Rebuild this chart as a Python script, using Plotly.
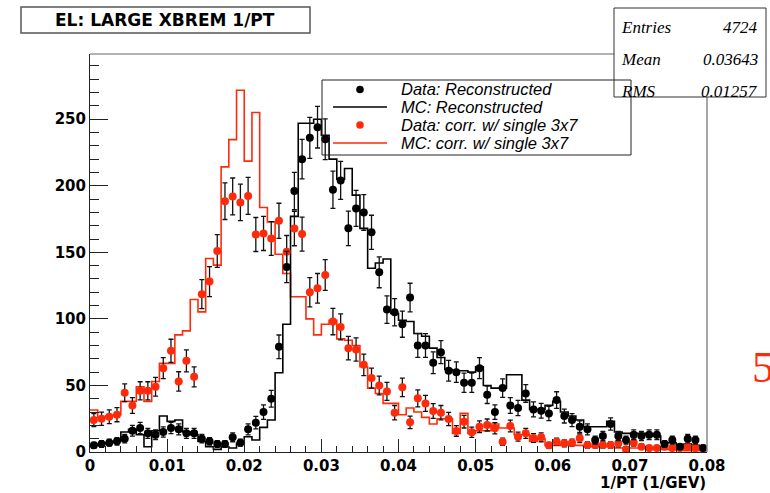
import numpy as np
import plotly.graph_objects as go

# ---------------- data ----------------
X_MIN, X_MAX, N_BINS = 0.0, 0.08, 80

data_reco = [5, 6, 7, 8, 10, 16, 18, 14, 13, 15, 18, 17, 14, 14, 10, 8, 6, 6, 11, 7,
             17, 22, 30, 40, 79, 139, 196, 220, 236, 244, 235, 197, 204, 168, 183, 180, 165, 135, 107, 105,
             96, 116, 80, 80, 67, 75, 61, 60, 52, 52, 63, 43, 30, 48, 35, 33, 44, 32, 31, 29,
             39, 27, 24, 19, 17, 9, 12, 21, 12, 9, 13, 12, 13, 13, 6, 9, 4, 10, 9, 3]

mc_reco = [5, 6, 7, 8, 15, 17, 13, 4, 16, 27, 23, 24, 15, 13, 8, 4, 2, 4, 3, 6.5,
           11.5, 9, 18.5, 24, 59.5, 96, 177, 247, 247, 250, 238, 220, 205, 213, 193, 168, 138, 142, 145, 104,
           99, 98, 89, 87, 78, 71, 62, 61, 61, 60, 64, 50, 48, 48, 58, 58, 39, 32, 32, 35,
           38, 30, 27, 24, 19, 19, 19, 23, 15, 14, 14, 14, 13, 12, 7, 7, 5, 6, 5, 3]

data_corr = [24, 25, 26.5, 28, 44.5, 35, 46, 46, 49, 63, 76, 53, 68.5, 56.5, 118.6, 128, 151, 188.4, 192, 187.5,
             192.4, 163.4, 164.2, 160.4, 173.7, 150.4, 167.9, 163.7, 120, 123, 133, 98, 94, 78, 77, 65.5, 55.5, 50, 45.5, 29.5,
             48.6, 22.3, 40.3, 36.5, 30.8, 29.5, 24.8, 15.8, 22.8, 14.8, 19, 20.3, 17.8, 7.7, 19.5, 11.5, 14, 10.5, 11, 5,
             7.7, 6.5, 7, 10.3, 5.3, 5.3, 5.3, 5.3, 6.5, 2, 7, 4, 3, 3, 4, 3, 3, 4, 3, 3]

mc_corr = [31.5, 26, 27, 28, 38, 38, 49, 38, 53, 66.6, 66.6, 88, 91, 114.6, 105.3, 145.4, 140.4, 214.2, 234.7, 271.8,
           218.5, 255, 183.7, 172.9, 148.6, 134.1, 116.6, 116.6, 100, 88, 96, 99, 85, 84, 80, 64, 48, 44, 36.5, 36.5,
           28, 33, 30, 26, 21, 25, 25, 14, 29, 14, 16, 16, 21, 18, 18, 13, 13, 8, 10, 5,
           5, 6, 5, 5, 4, 4, 4, 4, 3, 3, 3, 3, 3, 2, 2, 2, 2, 1, 1, 1]

x_tick_vals = [0, 0.01, 0.02, 0.03, 0.04, 0.05, 0.06, 0.07, 0.08]
x_tick_text = ["0", "0.01", "0.02", "0.03", "0.04", "0.05", "0.06", "0.07", "0.08"]
y_tick_vals = [0, 50, 100, 150, 200, 250]
y_tick_text = ["0", "50", "100", "150", "200", "250"]

legend_labels = ["Data: Reconstructed", "MC: Reconstructed",
                 "Data: corr. w/ single 3x7", "MC: corr. w/ single 3x7"]
stats_names = ["Entries", "Mean", "RMS"]
stats_values = ["4724", "0.03643", "0.01257"]
title_text = "EL: LARGE XBREM 1/PT"
x_title = "1/PT (1/GEV)"

# ---------------- styling ----------------
RED = "#ff2a0a"
BLACK = "#000000"
W, H = 770, 493
L, R, T, B = 90, 707, 54, 452   # plot area in pixels
Y_MAX = 299

def px(X):
    return (X - L) / (R - L)

def py(Y):
    return (B - Y) / (B - T)

edges = np.linspace(X_MIN, X_MAX, N_BINS + 1)
centers = (edges[:-1] + edges[1:]) / 2

def step_y(vals):
    return list(vals) + [vals[-1]]

fig = go.Figure()

fig.add_trace(go.Scatter(x=edges, y=step_y(mc_corr), mode="lines", line_shape="hv",
                         line=dict(color=RED, width=1.6), showlegend=False, hoverinfo="skip"))
fig.add_trace(go.Scatter(x=edges, y=step_y(mc_reco), mode="lines", line_shape="hv",
                         line=dict(color=BLACK, width=1.6), showlegend=False, hoverinfo="skip"))
fig.add_trace(go.Scatter(x=centers, y=data_corr, mode="markers",
                         marker=dict(color=RED, size=8),
                         error_y=dict(type="data", array=np.sqrt(data_corr), color="#111",
                                      thickness=1.3, width=2.5),
                         showlegend=False, hoverinfo="skip"))
fig.add_trace(go.Scatter(x=centers, y=data_reco, mode="markers",
                         marker=dict(color=BLACK, size=8),
                         error_y=dict(type="data", array=np.sqrt(data_reco), color="#111",
                                      thickness=1.3, width=2.5),
                         showlegend=False, hoverinfo="skip"))

tick_font = dict(family="DejaVu Sans", size=15, color="black", weight="bold")

fig.update_xaxes(range=[X_MIN, X_MAX], tickvals=x_tick_vals, ticktext=x_tick_text,
                 ticks="inside", ticklen=13, tickwidth=1, tickcolor="#222",
                 minor=dict(dtick=0.002, ticks="inside", ticklen=6, tickcolor="#222"),
                 showline=True, linecolor="#222", linewidth=1, showgrid=False, zeroline=False,
                 tickfont=tick_font)
fig.update_yaxes(range=[0, Y_MAX], tickvals=y_tick_vals, ticktext=y_tick_text,
                 ticks="inside", ticklen=18, tickwidth=1, tickcolor="#222",
                 minor=dict(dtick=10, ticks="inside", ticklen=9, tickcolor="#222"),
                 showline=True, linecolor="#222", linewidth=1, showgrid=False, zeroline=False,
                 tickfont=tick_font)

shapes = []
annotations = []

# frame (top / right)
shapes.append(dict(type="line", xref="paper", yref="paper", x0=0, x1=1, y0=1, y1=1,
                   line=dict(color="#666", width=1.2)))
shapes.append(dict(type="line", xref="paper", yref="paper", x0=1, x1=1, y0=0, y1=1,
                   line=dict(color="#888", width=1.5)))

# title box
shapes.append(dict(type="rect", xref="paper", yref="paper", x0=px(21), x1=px(310), y0=py(33), y1=py(7),
                   line=dict(color="#555", width=1.5), fillcolor="white"))
annotations.append(dict(xref="paper", yref="paper", x=px(165), y=py(20.5), text=title_text,
                        showarrow=False, xanchor="center", yanchor="middle",
                        font=dict(family="DejaVu Sans", size=17, color="black", weight="bold")))

# stats box
shapes.append(dict(type="rect", xref="paper", yref="paper", x0=px(614), x1=px(766), y0=py(97), y1=py(8),
                   line=dict(color="#333", width=1), fillcolor="white"))
for i, (n, v) in enumerate(zip(stats_names, stats_values)):
    yy = 27 + i * 32.5
    annotations.append(dict(xref="paper", yref="paper", x=px(619), y=py(yy), text="<i>%s</i>" % n,
                            showarrow=False, xanchor="left", yanchor="middle",
                            font=dict(family="Liberation Serif", size=17, color="black")))
    annotations.append(dict(xref="paper", yref="paper", x=px(760), y=py(yy), text="<i>%s</i>" % v,
                            showarrow=False, xanchor="right", yanchor="middle",
                            font=dict(family="Liberation Serif", size=17, color="black")))

# legend box (no fill)
shapes.append(dict(type="rect", xref="paper", yref="paper", x0=px(322), x1=px(631), y0=py(155), y1=py(80),
                   line=dict(color="#222", width=1), fillcolor="rgba(0,0,0,0)"))
row_y = [89.5, 107, 125, 143]
glyph_x = 360
r_px = 3.8
for i, lab in enumerate(legend_labels):
    yy = row_y[i]
    if i in (0, 2):
        col = BLACK if i == 0 else RED
        shapes.append(dict(type="circle", xref="paper", yref="paper",
                           x0=px(glyph_x - r_px), x1=px(glyph_x + r_px),
                           y0=py(yy + r_px), y1=py(yy - r_px),
                           line=dict(color=col, width=0), fillcolor=col))
    else:
        col = BLACK if i == 1 else RED
        shapes.append(dict(type="line", xref="paper", yref="paper",
                           x0=px(333), x1=px(387), y0=py(yy), y1=py(yy),
                           line=dict(color=col, width=1.6)))
    annotations.append(dict(xref="paper", yref="paper", x=px(399), y=py(yy), text="<i>%s</i>" % lab,
                            showarrow=False, xanchor="left", yanchor="middle",
                            font=dict(family="Liberation Sans", size=16.5, color="black")))

# x axis title
annotations.append(dict(xref="paper", yref="paper", x=px(708), y=py(483), text=x_title,
                        showarrow=False, xanchor="right", yanchor="middle",
                        font=dict(family="DejaVu Sans", size=15, color="black", weight="bold")))

# partial slide number at the right edge
annotations.append(dict(xref="paper", yref="paper", x=px(750), y=py(367), text="5",
                        showarrow=False, xanchor="left", yanchor="middle",
                        font=dict(family="Liberation Serif", size=44, color=RED)))

fig.update_layout(width=W, height=H, autosize=False,
                  margin=dict(l=L, r=W - R, t=T, b=H - B, pad=0),
                  paper_bgcolor="white", plot_bgcolor="white",
                  shapes=shapes, annotations=annotations, showlegend=False)

fig.write_html("out.html")
